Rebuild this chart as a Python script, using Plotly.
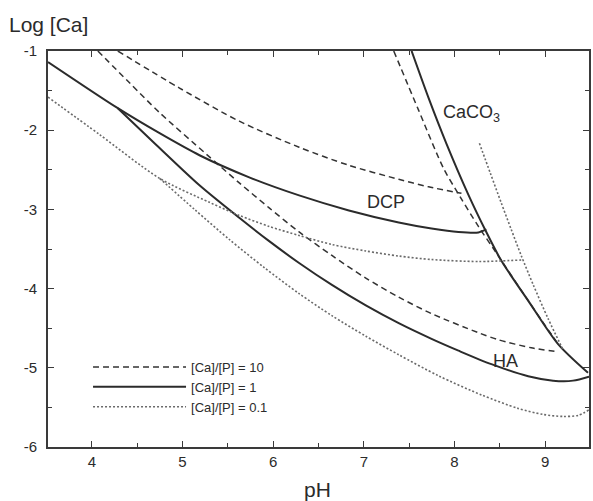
import plotly.graph_objects as go

# ---- data (pH, log[Ca]) ----
# [Ca]/[P] = 1 (solid)
s_dcp_ph = [3.516, 4.286, 4.747, 5.187, 5.736, 6.286, 6.835, 7.385, 7.747, 8.044, 8.264, 8.352]
s_dcp_ca = [-1.139, -1.722, -2.038, -2.316, -2.595, -2.823, -3.013, -3.165, -3.241, -3.285, -3.291, -3.253]
s_ha_ph = [4.286, 4.714, 5.187, 5.626, 5.956, 6.286, 6.648, 7.022, 7.385, 7.747, 8.044, 8.407, 8.813, 9.088, 9.308, 9.484]
s_ha_ca = [-1.722, -2.190, -2.696, -3.106, -3.401, -3.677, -3.954, -4.213, -4.437, -4.635, -4.784, -4.954, -5.106, -5.162, -5.162, -5.111]
s_cc_ph = [7.527, 7.714, 7.912, 8.154, 8.341, 8.516, 8.813, 9.143, 9.473]
s_cc_ca = [-1.000, -1.592, -2.172, -2.816, -3.263, -3.646, -4.152, -4.701, -5.063]

# [Ca]/[P] = 10 (dashed)
d_dcp_ph = [4.286, 4.967, 5.626, 6.286, 6.835, 7.385, 7.714, 8.077]
d_dcp_ca = [-1.000, -1.468, -1.886, -2.215, -2.443, -2.620, -2.715, -2.797]
d_ha_ph = [4.066, 4.418, 4.747, 5.264, 5.626, 5.956, 6.286, 6.648, 7.022, 7.385, 7.747, 8.264, 8.484, 8.846, 9.143]
d_ha_ca = [-1.000, -1.405, -1.778, -2.304, -2.665, -2.981, -3.285, -3.582, -3.867, -4.108, -4.316, -4.557, -4.646, -4.747, -4.797]
d_cc_ph = [7.330, 7.604, 7.879, 8.066, 8.264, 8.451, 8.813, 9.143]
d_cc_ca = [-1.000, -1.747, -2.481, -2.848, -3.215, -3.532, -4.152, -4.701]

# [Ca]/[P] = 0.1 (dotted)
t_dcp_ph = [3.516, 4.088, 4.747, 5.297, 5.626, 5.956, 6.286, 6.648, 7.022, 7.385, 7.747, 8.264, 8.736]
t_dcp_ca = [-1.582, -2.058, -2.608, -2.911, -3.076, -3.215, -3.329, -3.443, -3.525, -3.589, -3.633, -3.658, -3.639]
t_ha_ph = [4.747, 5.132, 5.516, 5.901, 6.286, 6.648, 7.022, 7.385, 7.824, 8.297, 8.703, 8.978, 9.198, 9.363, 9.484]
t_ha_ca = [-2.608, -3.000, -3.380, -3.734, -4.063, -4.342, -4.601, -4.835, -5.101, -5.342, -5.513, -5.589, -5.614, -5.601, -5.532]
t_cc_ph = [8.275, 8.396, 8.516, 8.626, 8.736, 8.868, 9.033, 9.198]
t_cc_ca = [-2.165, -2.544, -2.918, -3.253, -3.582, -3.949, -4.380, -4.772]

legend_names = ["[Ca]/[P] = 10", "[Ca]/[P] = 1", "[Ca]/[P] = 0.1"]
x_ticks = [4, 5, 6, 7, 8, 9]
x_ticktext = ["4", "5", "6", "7", "8", "9"]
y_ticks = [-1, -2, -3, -4, -5, -6]
y_ticktext = ["-1", "-2", "-3", "-4", "-5", "-6"]

labels = [("CaCO<sub>3</sub>", 8.19, -1.79), ("DCP", 7.25, -2.91), ("HA", 8.56, -4.92)]

FONT = "Liberation Sans, Arial, sans-serif"
TXT = "#2b2b2b"

styles = [
    dict(color="#333333", width=1.5, dash="6px,4px"),
    dict(color="#2b2b2b", width=2.0, dash="solid"),
    dict(color="#6a6a6a", width=1.6, dash="2px,2px"),
]
groups = [
    [(d_dcp_ph, d_dcp_ca), (d_ha_ph, d_ha_ca), (d_cc_ph, d_cc_ca)],
    [(s_dcp_ph, s_dcp_ca), (s_ha_ph, s_ha_ca), (s_cc_ph, s_cc_ca)],
    [(t_dcp_ph, t_dcp_ca), (t_ha_ph, t_ha_ca), (t_cc_ph, t_cc_ca)],
]

fig = go.Figure()
for name, style, curves in zip(legend_names, styles, groups):
    for ci, (xs, ys) in enumerate(curves):
        fig.add_trace(go.Scatter(
            x=xs, y=ys, mode="lines", name=name, legendgroup=name,
            showlegend=(ci == 0), line=dict(shape="spline", smoothing=0.8, **style),
            hoverinfo="skip",
        ))

for text, x, y in labels:
    fig.add_annotation(x=x, y=y, text=text, showarrow=False, xref="x", yref="y",
                       font=dict(family=FONT, size=18, color=TXT))

fig.add_annotation(x=-0.076, y=1.068, xref="paper", yref="paper", xanchor="left", yanchor="middle",
                   text="Log [Ca]", showarrow=False,
                   font=dict(family=FONT, size=21, color=TXT))
fig.add_annotation(x=0.499, y=-0.108, xref="paper", yref="paper", xanchor="center", yanchor="middle",
                   text="pH", showarrow=False,
                   font=dict(family=FONT, size=21, color=TXT))

axis_common = dict(showline=True, linecolor="#3a3a3a", linewidth=1.6, mirror="ticks",
                   ticks="inside", ticklen=6, tickwidth=1.2, tickcolor="#3a3a3a",
                   showgrid=False, zeroline=False,
                   tickfont=dict(family=FONT, size=15, color=TXT),
                   minor=dict(ticks="inside", ticklen=4, tickwidth=1.0, tickcolor="#3a3a3a",
                              dtick=0.5, showgrid=False))

fig.update_xaxes(range=[3.516, 9.484], tickvals=x_ticks, ticktext=x_ticktext, **axis_common)
fig.update_yaxes(range=[-6, -1], tickvals=y_ticks, ticktext=y_ticktext, ticklabelstandoff=6,
                 **axis_common)

fig.update_layout(
    width=593, height=501,
    margin=dict(l=48, r=2, t=51, b=54),
    paper_bgcolor="white", plot_bgcolor="white",
    legend=dict(x=0.074, y=0.24, xanchor="left", yanchor="top", itemwidth=93,
                bgcolor="rgba(0,0,0,0)", tracegroupgap=0,
                font=dict(family=FONT, size=13, color=TXT)),
)

fig.write_html("out.html")
